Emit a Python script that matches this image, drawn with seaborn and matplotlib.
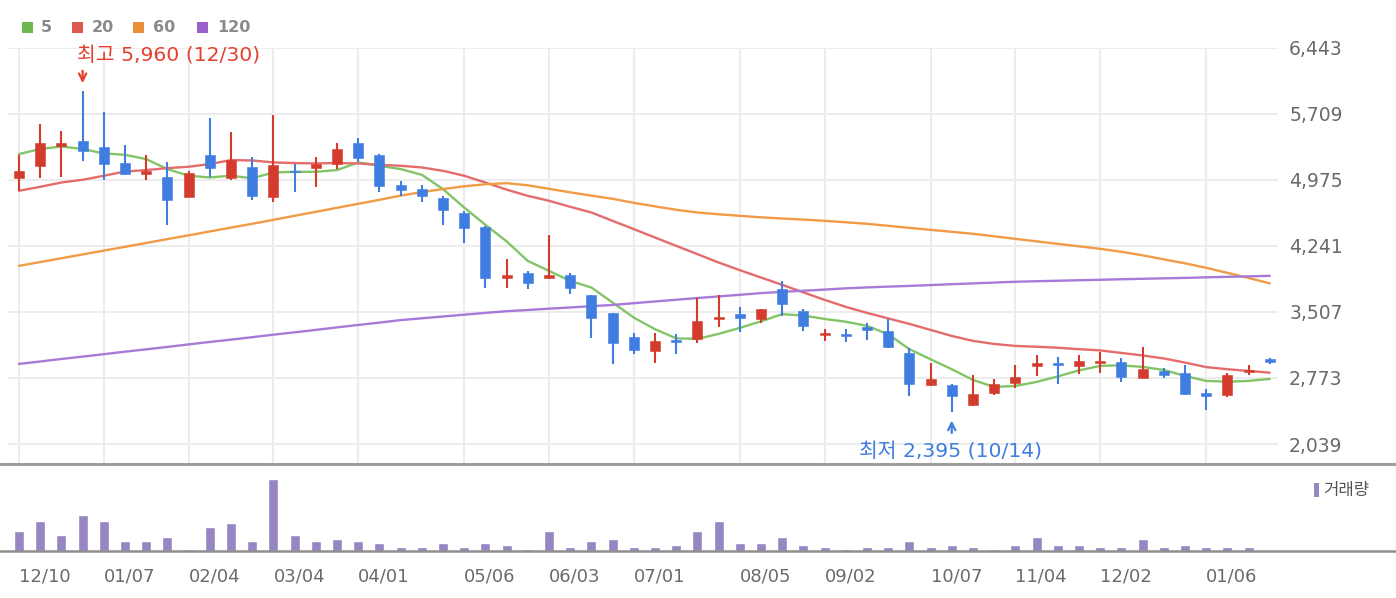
import numpy as np
import pandas as pd
import matplotlib
matplotlib.use("Agg")
import matplotlib.pyplot as plt
import seaborn as sns
from matplotlib.lines import Line2D
from matplotlib.patches import Rectangle

# ---------------- data (weekly candles) ----------------
opens = [4997, 5123, 5350, 5409, 5342, 5161, 5045, 5009, 4789, 5253,
         4990, 5112, 4789, 5075, 5105, 5150, 5383, 5253, 4916, 4872,
         4778, 4605, 4453, 3882, 3944, 3882, 3915, 3696, 3493, 3229,
         3074, 3193, 3204, 3433, 3488, 3433, 3760, 3518, 3252, 3266,
         3344, 3296, 3048, 2696, 2692, 2470, 2610, 2721, 2907, 2940,
         2907, 2940, 2955, 2777, 2851, 2826, 2607, 2584, 2844, 2981]
highs = [5253, 5595, 5520, 5960, 5724, 5364, 5253, 5168, 5075, 5657,
         5501, 5231, 5698, 5156, 5231, 5383, 5434, 5261, 4964, 4916,
         4790, 4630, 4460, 4093, 3963, 4364, 3944, 3700, 3500, 3270,
         3270, 3259, 3666, 3696, 3563, 3540, 3852, 3537, 3322, 3315,
         3388, 3426, 3104, 2944, 2710, 2807, 2759, 2918, 3026, 3007,
         3029, 3066, 2999, 3118, 2888, 2918, 2648, 2832, 2918, 2999]
lows = [4853, 4990, 5009, 5186, 4972, 5030, 4972, 4475, 4789, 5001,
        4975, 4749, 4723, 4834, 4897, 5094, 5168, 4834, 4797, 4723,
        4475, 4278, 3771, 3771, 3766, 3870, 3704, 3215, 2926, 3037,
        2944, 3037, 3166, 3341, 3288, 3388, 3463, 3296, 3185, 3174,
        3196, 3104, 2573, 2685, 2395, 2460, 2584, 2659, 2796, 2703,
        2815, 2832, 2732, 2770, 2770, 2584, 2420, 2565, 2807, 2926]
closes = [5075, 5383, 5387, 5298, 5150, 5039, 5075, 4749, 5056, 5105,
          5194, 4797, 5139, 5060, 5150, 5317, 5216, 4901, 4861, 4797,
          4638, 4438, 3882, 3915, 3833, 3915, 3778, 3437, 3166, 3081,
          3185, 3170, 3407, 3455, 3437, 3537, 3593, 3352, 3274, 3237,
          3307, 3118, 2703, 2759, 2573, 2599, 2710, 2785, 2944, 2920,
          2962, 2955, 2788, 2870, 2807, 2599, 2577, 2803, 2866, 2955]
volume = [20, 30, 16, 36, 30, 10, 10, 14, 2, 24,
          28, 10, 72, 16, 10, 12, 10, 8, 4, 4,
          8, 4, 8, 6, 2, 20, 4, 10, 12, 4,
          4, 6, 20, 30, 8, 8, 14, 6, 4, 2,
          4, 4, 10, 4, 6, 4, 2, 6, 14, 6,
          6, 4, 4, 12, 4, 6, 4, 4, 4, 0]
ma5 = [5261, 5317, 5345, 5317, 5268, 5253, 5205, 5094, 5020, 5001,
       5020, 4992, 5056, 5064, 5064, 5083, 5168, 5131, 5094, 5031,
       4872, 4667, 4475, 4291, 4074, 3963, 3852, 3778, 3611, 3444,
       3315, 3213, 3207, 3263, 3329, 3402, 3482, 3466, 3429, 3398,
       3352, 3259, 3093, 2981, 2870, 2751, 2673, 2684, 2729, 2790,
       2857, 2907, 2913, 2896, 2862, 2796, 2740, 2732, 2740, 2762]
ma20 = [4853, 4897, 4945, 4975, 5020, 5067, 5083, 5105, 5120, 5150,
        5194, 5190, 5168, 5161, 5157, 5161, 5157, 5142, 5131, 5112,
        5075, 5020, 4945, 4866, 4797, 4742, 4675, 4612, 4519, 4427,
        4334, 4241, 4149, 4056, 3971, 3889, 3808, 3724, 3641, 3563,
        3496, 3435, 3374, 3307, 3240, 3185, 3151, 3129, 3120, 3109,
        3093, 3079, 3051, 3023, 2990, 2944, 2894, 2870, 2851, 2832]
ma60 = [4019, 4061, 4103, 4146, 4188, 4230, 4273, 4316, 4358, 4401,
        4444, 4486, 4530, 4575, 4619, 4664, 4708, 4753, 4799, 4838,
        4872, 4903, 4925, 4938, 4914, 4875, 4836, 4799, 4764, 4719,
        4680, 4642, 4612, 4592, 4575, 4558, 4545, 4533, 4519, 4503,
        4486, 4464, 4441, 4419, 4397, 4375, 4347, 4319, 4291, 4263,
        4236, 4208, 4175, 4136, 4091, 4047, 3997, 3941, 3885, 3824]
ma120 = [2929, 2956, 2984, 3010, 3037, 3065, 3091, 3118, 3146, 3173,
         3199, 3226, 3254, 3280, 3307, 3335, 3362, 3388, 3416, 3436,
         3456, 3476, 3496, 3515, 3528, 3543, 3556, 3571, 3584, 3604,
         3623, 3642, 3661, 3679, 3697, 3716, 3730, 3742, 3755, 3769,
         3779, 3788, 3796, 3805, 3815, 3824, 3833, 3842, 3848, 3853,
         3859, 3864, 3870, 3875, 3880, 3885, 3891, 3897, 3902, 3908]

ma_labels = ["5", "20", "60", "120"]
x_tick_idx = [0, 4, 8, 12, 16, 21, 25, 29, 34, 38, 43, 47, 51, 56]
x_tick_labels = ["12/10", "01/07", "02/04", "03/04", "04/01", "05/06", "06/03",
                 "07/01", "08/05", "09/02", "10/07", "11/04", "12/02", "01/06"]
y_ticks = [2039, 2773, 3507, 4241, 4975, 5709, 6443]
high_date = "12/30"
low_date = "10/14"
volume_label = "거래량"

# ---------------- styling ----------------
sns.set_style("white")
plt.rcParams["font.family"] = ["DejaVu Sans", "Noto Sans CJK KR"]

C_UP = "#d33b2d"
C_DOWN = "#3f7de0"
C_MA = ["#82c567", "#e46c6c", "#f19b46", "#a87ad8"]
C_LEG = ["#6cba4e", "#dc5a4e", "#eb8e3a", "#9a60cc"]
C_VOL = "#9686c2"
C_GRID = "#ececec"
C_TXT = "#6a6a6a"

W, H = 1396, 598
fig = plt.figure(figsize=(W / 100, H / 100), dpi=100)
fig.patch.set_facecolor("white")

def fx(px):
    return px / W

def fy(py):
    return 1 - py / H

ax_left, ax_right = 8, 1278
ax = fig.add_axes([fx(ax_left), fy(463), fx(ax_right - ax_left), (463 - 47.7) / H])
axv = fig.add_axes([fx(ax_left), fy(551), fx(ax_right - ax_left), (551 - 464) / H])

n = len(closes)
idx = np.arange(n)
df = pd.DataFrame({"idx": idx, "open": opens, "high": highs, "low": lows,
                   "close": closes, "volume": volume,
                   "ma5": ma5, "ma20": ma20, "ma60": ma60, "ma120": ma120})

# moving-average lines
for col, c in zip(["ma5", "ma20", "ma60", "ma120"], C_MA):
    sns.lineplot(data=df, x="idx", y=col, ax=ax, color=c, linewidth=1.7,
                 zorder=2, legend=False)

# candles
up = df["close"] >= df["open"]
colors = np.where(up, C_UP, C_DOWN)
ax.vlines(df["idx"], df["low"], df["high"], colors=colors, linewidth=1.5, zorder=3)
body_bottom = np.minimum(df["open"], df["close"])
body_h = np.maximum(np.abs(df["close"] - df["open"]), 18)
ax.bar(df["idx"], body_h, bottom=body_bottom, width=0.47, color=colors,
       edgecolor=colors, linewidth=0.4, zorder=4)

ax.set_xlim(-0.519, 59.39)
ax.set_ylim(1828, 6443)
ax.set_yticks(y_ticks)
ax.set_yticklabels([f"{v:,}" for v in y_ticks])
ax.yaxis.tick_right()
ax.set_xticks(x_tick_idx)
ax.set_xticklabels([])
ax.grid(True, color=C_GRID, linewidth=1.5, zorder=0)
ax.set_axisbelow(True)
ax.tick_params(axis="y", length=0, pad=8, labelsize=13.5, labelcolor=C_TXT)
ax.tick_params(axis="x", length=0)
ax.set_xlabel("")
ax.set_ylabel("")
for s in ax.spines.values():
    s.set_visible(False)

# high / low annotations
hi_i = int(np.argmax(highs))
lo_i = int(np.argmin(lows))
hi_v = highs[hi_i]
lo_v = lows[lo_i]
ax.annotate("", xy=(hi_i, 6018), xytext=(hi_i, 6218),
            arrowprops=dict(arrowstyle="->", color="#e5402f", lw=1.6,
                            mutation_scale=13), zorder=5)
ax.text(hi_i - 0.26, 6362, f"최고 {hi_v:,} ({high_date})", color="#e5402f",
        fontsize=14.7, ha="left", va="center",
        family=["DejaVu Sans", "Noto Sans CJK KR"])
ax.annotate("", xy=(lo_i, 2331), xytext=(lo_i, 2131),
            arrowprops=dict(arrowstyle="->", color="#3f7de0", lw=1.6,
                            mutation_scale=13), zorder=5)
ax.text(lo_i - 4.39, 1964, f"최저 {lo_v:,} ({low_date})", color="#3f7de0",
        fontsize=14.7, ha="left", va="center",
        family=["DejaVu Sans", "Noto Sans CJK KR"])

# volume
sns.barplot(data=df, x="idx", y="volume", ax=axv, color=C_VOL, width=0.47,
            saturation=1, native_scale=True, errorbar=None, zorder=2)
axv.set_xlim(-0.519, 59.39)
axv.set_ylim(0, 87)
axv.set_yticks([])
axv.set_xticks(x_tick_idx)
axv.set_xticklabels(x_tick_labels, ha="left")
axv.tick_params(axis="x", length=5, width=1.3, color="#b0b0b0", direction="out",
                pad=7, labelsize=13, labelcolor=C_TXT)
axv.set_xlabel("")
axv.set_ylabel("")
for s in axv.spines.values():
    s.set_visible(False)

# full-width separator lines
fig.add_artist(Line2D([0, 1], [fy(463.5), fy(463.5)], transform=fig.transFigure,
                      color="#9e9e9e", linewidth=2.2))
fig.add_artist(Line2D([0, 1], [fy(551), fy(551)], transform=fig.transFigure,
                      color="#8e8e8e", linewidth=1.8))

# top legend
leg_pos = [(22, 41), (72, 92), (133, 153), (197, 217)]
for (sx, tx), lab, c in zip(leg_pos, ma_labels, C_LEG):
    fig.add_artist(Rectangle((fx(sx), fy(33)), fx(11), 11 / H,
                             transform=fig.transFigure, color=c, lw=0))
    fig.text(fx(tx), fy(27), lab, fontsize=11.5, fontweight="bold",
             color="#8a8a8a", ha="left", va="center")

# volume legend
fig.add_artist(Rectangle((fx(1314), fy(497)), fx(5), 14 / H,
                         transform=fig.transFigure, color=C_VOL, lw=0))
fig.text(fx(1323), fy(490), volume_label, fontsize=12, color="#555555",
         ha="left", va="center", family=["Noto Sans CJK KR", "DejaVu Sans"])

fig.savefig("out.png", dpi=100, facecolor="white")
